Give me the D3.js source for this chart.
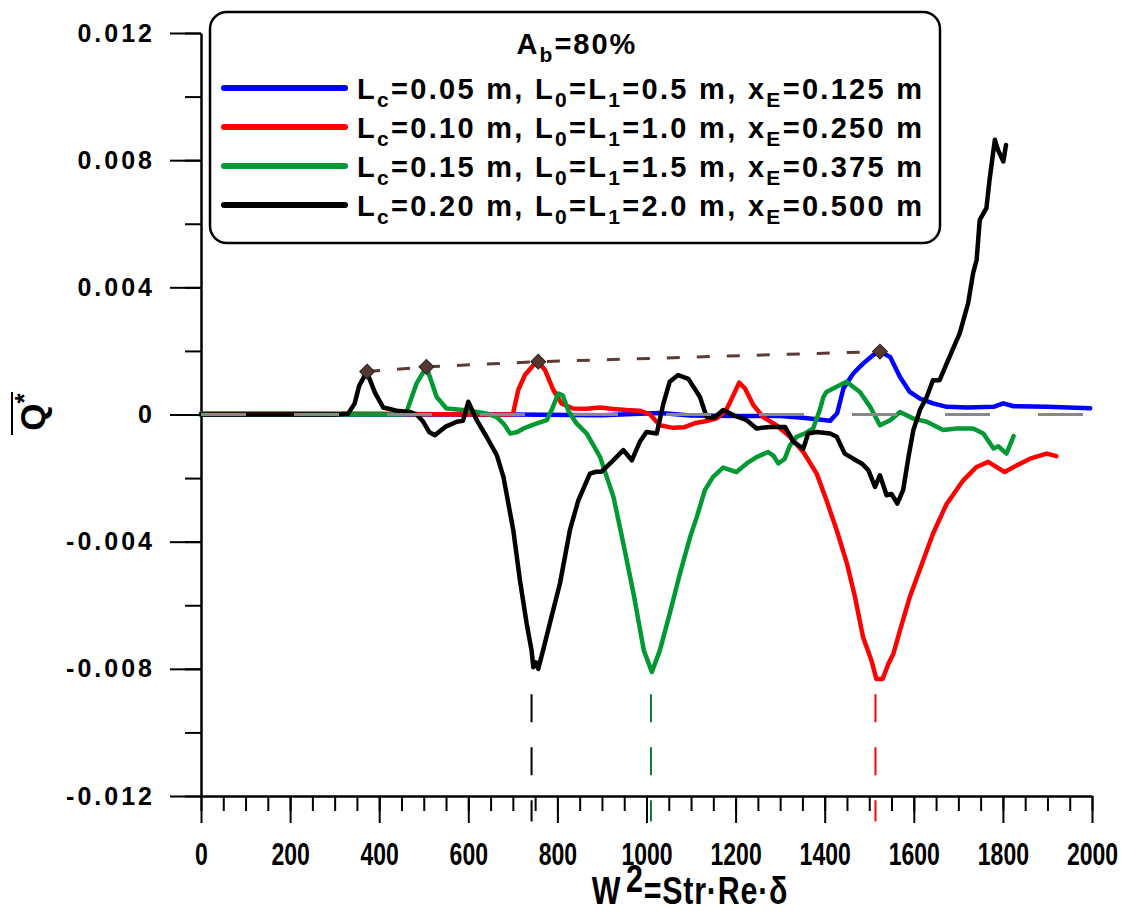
<!DOCTYPE html>
<html>
<head>
<meta charset="utf-8">
<script src="https://cdn.jsdelivr.net/npm/d3@7"></script>
<style>
  html, body { margin: 0; padding: 0; background: #fff; }
  svg { display: block; font-family: "Liberation Sans", Arial, sans-serif; font-weight: bold; }
</style>
</head>
<body>
<svg id="chart" width="1136" height="911"></svg>
<script>
// Q* curves, one [W2, Q*] list per case
const seriesLc005 = [[0,0],[500,0],[700,0],[900,-0.00002],[1000,0.00003],[1030,0.00005],[1100,-0.00003],[1200,-0.00005],[1300,-0.00005],[1350,-0.0001],[1382,-0.00015],[1412,-0.0002],[1428,0.00004],[1442,0.00082],[1464,0.00129],[1486,0.0016],[1509,0.00187],[1524,0.00198],[1547,0.00181],[1569,0.00118],[1591,0.00071],[1614,0.0005],[1643,0.00035],[1674,0.00024],[1720,0.00022],[1779,0.00024],[1801,0.00035],[1824,0.00026],[1900,0.00024],[1996,0.0002]];
const seriesLc010 = [[0,0.00003],[200,0.00003],[400,0.00002],[600,0],[700,0],[712,0.00077],[727,0.00124],[746,0.00155],[757,0.00166],[772,0.0014],[791,0.00077],[809,0.00035],[835,0.00019],[865,0.00018],[896,0.00022],[925,0.00017],[955,0.00014],[985,0.00012],[1008,0],[1030,-0.00034],[1060,-0.00042],[1085,-0.0004],[1109,-0.00027],[1127,-0.00023],[1157,-0.00013],[1179,0.00014],[1195,0.00061],[1208,0.001],[1221,0.00082],[1240,0.00029],[1262,-0.00008],[1292,-0.00034],[1322,-0.0007],[1352,-0.00118],[1382,-0.00186],[1404,-0.0027],[1427,-0.00364],[1450,-0.00469],[1468,-0.00574],[1486,-0.007],[1505,-0.00774],[1516,-0.00832],[1530,-0.00832],[1543,-0.00784],[1554,-0.00753],[1569,-0.00679],[1591,-0.00574],[1621,-0.00459],[1643,-0.00375],[1673,-0.00283],[1711,-0.00207],[1741,-0.00165],[1767,-0.00149],[1804,-0.00181],[1831,-0.0016],[1861,-0.00139],[1898,-0.00123],[1920,-0.00131]];
const seriesLc015 = [[0,0],[200,0],[400,0],[450,0],[460,0.00002],[484,0.00098],[506,0.0015],[529,0.00055],[551,0.00019],[589,0.00014],[620,0.00008],[645,0.00002],[664,-0.00008],[680,-0.0003],[694,-0.0006],[710,-0.00055],[724,-0.00044],[740,-0.00035],[754,-0.00028],[776,-0.00018],[787,0.00014],[802,0.00066],[812,0.0006],[825,0.0001],[843,-0.00028],[866,-0.0006],[896,-0.00134],[926,-0.0026],[948,-0.00406],[971,-0.00564],[994,-0.00742],[1012,-0.0081],[1030,-0.00742],[1052,-0.00627],[1075,-0.00501],[1098,-0.00385],[1113,-0.00322],[1131,-0.00238],[1149,-0.00197],[1172,-0.00167],[1202,-0.00181],[1225,-0.00154],[1247,-0.00134],[1273,-0.00118],[1285,-0.0013],[1296,-0.00154],[1310,-0.0014],[1322,-0.00097],[1337,-0.0007],[1355,-0.0006],[1374,-0.00044],[1389,0.00014],[1397,0.00055],[1404,0.00071],[1419,0.00082],[1449,0.00103],[1479,0.00071],[1502,0.00024],[1524,-0.00034],[1547,-0.00018],[1569,0.00008],[1599,-0.00013],[1629,-0.00023],[1666,-0.00049],[1696,-0.00044],[1733,-0.00044],[1756,-0.0006],[1779,-0.00107],[1790,-0.001],[1808,-0.00123],[1824,-0.00068]];
const seriesLc020 = [[0,0],[100,0],[200,0],[300,0],[330,0.00002],[345,0.00035],[355,0.0009],[372,0.00134],[391,0.00067],[409,0.00022],[439,0.00012],[469,0.00008],[484,0],[499,-0.00023],[512,-0.00055],[525,-0.00065],[548,-0.00039],[574,-0.00023],[588,-0.0002],[600,0.0004],[619,-0.00018],[641,-0.0007],[664,-0.00128],[679,-0.00197],[701,-0.00364],[716,-0.00522],[731,-0.00658],[742,-0.00742],[746,-0.00795],[752,-0.0078],[757,-0.008],[770,-0.0073],[783,-0.00657],[806,-0.0053],[828,-0.00364],[847,-0.0027],[873,-0.00186],[887,-0.0018],[899,-0.0018],[922,-0.00149],[948,-0.00112],[967,-0.00144],[985,-0.00086],[1000,-0.00055],[1023,-0.0006],[1038,0.00035],[1052,0.00103],[1071,0.00124],[1094,0.00112],[1120,0.00055],[1135,-0.00008],[1152,-0.0001],[1172,0.00014],[1195,-0.00002],[1225,-0.00018],[1247,-0.00044],[1277,-0.00039],[1311,-0.00039],[1330,-0.00086],[1352,-0.00107],[1363,-0.0006],[1382,-0.00055],[1412,-0.0006],[1427,-0.0007],[1445,-0.00123],[1464,-0.00139],[1483,-0.00154],[1498,-0.00175],[1513,-0.00228],[1524,-0.00191],[1539,-0.00254],[1550,-0.0025],[1563,-0.0028],[1576,-0.00238],[1588,-0.00134],[1599,-0.00049],[1614,0.00015],[1629,0.00055],[1643,0.00108],[1658,0.00108],[1677,0.00171],[1703,0.00255],[1722,0.0035],[1733,0.00444],[1741,0.00486],[1748,0.00612],[1763,0.00649],[1770,0.00738],[1782,0.00864],[1789,0.00832],[1801,0.00796],[1807,0.00848]];

// first positive peak of each case (diamonds joined by the dashed line)
const peakX = [373, 506, 757, 1524];
const peakY = [0.00135, 0.0015, 0.00166, 0.00198];
// W2 of the deepest minimum, marked by a dashed vertical line
const minimumX = [742, 1010, 1514];
const minimumColors = ['#000000', '#0a7a35', '#ff0000'];

const seriesColors = ['#0000ff', '#ff0000', '#009933', '#000000'];
const seriesLabels = [
  ['0.05', '0.5', '0.125'],
  ['0.10', '1.0', '0.250'],
  ['0.15', '1.5', '0.375'],
  ['0.20', '2.0', '0.500'],
];
const xTicks = d3.range(0, 2001, 200);
const xMinorTicks = d3.range(0, 2001, 50);
const yTicks = [-0.012, -0.008, -0.004, 0, 0.004, 0.008, 0.012];
const yMinorTicks = d3.range(-12, 13, 2).map(d => d / 1000);

const svg = d3.select('#chart');
const margin = {left: 201, right: 44, top: 33, bottom: 115};
const width = 1136, height = 911;

const x = d3.scaleLinear().domain([0, 2000]).range([margin.left, width - margin.right]);
const y = d3.scaleLinear().domain([-0.012, 0.012]).range([height - margin.bottom, margin.top]);

const fmtY = d => d === 0 ? '0' : (d < 0 ? '-' : '') + Math.abs(d).toFixed(3);

// axes
svg.append('g')
  .attr('transform', `translate(0,${y(-0.012)})`)
  .call(d3.axisBottom(x).tickValues(xMinorTicks).tickSize(15).tickSizeOuter(0).tickFormat(''))
  .call(g => g.select('.domain').remove())
  .call(g => g.selectAll('line').attr('stroke-width', 2));

svg.append('g')
  .attr('transform', `translate(0,${y(-0.012)})`)
  .call(d3.axisBottom(x).tickValues(xTicks).tickSize(27).tickSizeOuter(0).tickPadding(19).tickFormat(d3.format('d')))
  .call(g => g.select('.domain').attr('stroke-width', 2.5))
  .call(g => g.selectAll('line').attr('stroke-width', 2))
  // labels in the picture are tall and condensed
  .call(g => g.selectAll('text')
    .attr('font-size', 32)
    .attr('font-weight', 'bold')
    .attr('transform', 'scale(0.72,1)')
    .attr('fill', '#000'));

svg.append('g')
  .attr('transform', `translate(${x(0)},0)`)
  .call(d3.axisLeft(y).tickValues(yMinorTicks).tickSize(16).tickSizeOuter(0).tickFormat(''))
  .call(g => g.select('.domain').remove())
  .call(g => g.selectAll('line').attr('stroke-width', 2));

svg.append('g')
  .attr('transform', `translate(${x(0)},0)`)
  .call(d3.axisLeft(y).tickValues(yTicks).tickSize(31).tickSizeOuter(0).tickPadding(15).tickFormat(fmtY))
  .call(g => g.select('.domain').attr('stroke-width', 2.5))
  .call(g => g.selectAll('line').attr('stroke-width', 2))
  .call(g => g.selectAll('text')
    .attr('font-size', 25)
    .attr('font-weight', 'bold')
    .attr('letter-spacing', 3)
    .attr('fill', '#000'));

// dashed verticals at the minima, running through the x axis
svg.selectAll('.min-rule')
  .data(minimumX)
  .enter()
  .append('line')
  .attr('x1', d => x(d))
  .attr('x2', d => x(d))
  .attr('y1', y(-0.0088))
  .attr('y2', y(-0.0128))
  .attr('stroke', (_, i) => minimumColors[i])
  .attr('stroke-width', 2)
  .attr('stroke-dasharray', '28 25');

// curves
const line = d3.line()
  .x(d => x(d[0]))
  .y(d => y(d[1]));

[seriesLc005, seriesLc010, seriesLc015, seriesLc020].forEach((series, i) => {
  svg.append('path')
    .attr('d', line(series))
    .attr('fill', 'none')
    .attr('stroke', seriesColors[i])
    .attr('stroke-width', 4.5)
    .attr('stroke-linejoin', 'round')
    .attr('stroke-linecap', 'round');
});

// zero reference
svg.append('line')
  .attr('x1', x(0)).attr('x2', x(2000))
  .attr('y1', y(0)).attr('y2', y(0))
  .attr('stroke', '#888')
  .attr('stroke-width', 3)
  .attr('stroke-dasharray', '45 48');

// peak envelope
const peaks = peakX.map((d, i) => [d, peakY[i]]);
svg.append('path')
  .attr('d', line(peaks))
  .attr('fill', 'none')
  .attr('stroke', '#5e3a34')
  .attr('stroke-width', 3)
  .attr('stroke-dasharray', '13 17');

svg.selectAll('.peak')
  .data(peaks)
  .enter()
  .append('path')
  .attr('d', d3.symbol(d3.symbolSquare, 110))
  .attr('transform', d => `translate(${x(d[0])},${y(d[1])}) rotate(45)`)
  .attr('fill', '#5a3630')
  .attr('stroke', '#222')
  .attr('stroke-width', 1);

// legend
const legend = svg.append('g');
legend.append('rect')
  .attr('x', 210).attr('y', 12)
  .attr('width', 730).attr('height', 231)
  .attr('rx', 17)
  .attr('fill', '#fff')
  .attr('stroke', '#000')
  .attr('stroke-width', 2.5);

const title = legend.append('text')
  .attr('x', 577).attr('y', 54)
  .attr('text-anchor', 'middle')
  .attr('font-size', 29)
  .attr('letter-spacing', 2);
title.append('tspan').text('A');
title.append('tspan').attr('font-size', 21).attr('dy', 8).text('b');
title.append('tspan').attr('dy', -8).text('=80%');

seriesLabels.forEach((lab, i) => {
  const cy = 88 + i * 39;
  legend.append('line')
    .attr('x1', 224).attr('x2', 345)
    .attr('y1', cy).attr('y2', cy)
    .attr('stroke', seriesColors[i])
    .attr('stroke-width', 6)
    .attr('stroke-linecap', 'round');
  const t = legend.append('text')
    .attr('x', 357).attr('y', cy + 11)
    .attr('font-size', 29)
    .attr('letter-spacing', 2.3);
  const sub = (s) => t.append('tspan').attr('font-size', 21).attr('dy', 8).text(s);
  const up = (s) => t.append('tspan').attr('dy', -8).text(s);
  t.append('tspan').text('L');
  sub('c');
  up(`=${lab[0]} m, L`);
  sub('0');
  up('=L');
  sub('1');
  up(`=${lab[1]} m, x`);
  sub('E');
  up(`=${lab[2]} m`);
});

// axis titles
const xt = svg.append('g')
  .attr('transform', 'translate(690,904) scale(0.8,1)')
  .append('text')
  .attr('text-anchor', 'middle')
  .attr('font-size', 38)
  .attr('letter-spacing', 1);
xt.append('tspan').text('W');
xt.append('tspan').attr('dy', -12).attr('dx', 6).text('2');
xt.append('tspan').attr('dy', 12).text('=Str·Re·δ');

const yt = svg.append('g').attr('transform', 'translate(30,414) rotate(-90)');
const ytt = yt.append('text')
  .attr('x', 2).attr('y', 15)
  .attr('text-anchor', 'middle')
  .attr('font-size', 35);
ytt.append('tspan').text('Q');
ytt.append('tspan').attr('font-size', 26).attr('dy', -12).text('*');
yt.append('line')
  .attr('x1', -21).attr('x2', 22)
  .attr('y1', -18).attr('y2', -18)
  .attr('stroke', '#000')
  .attr('stroke-width', 2);
</script>
</body>
</html>
